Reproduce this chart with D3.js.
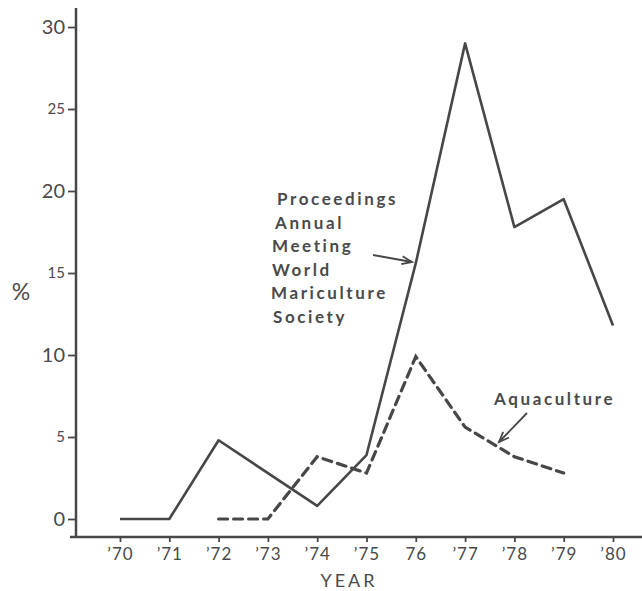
<!DOCTYPE html>
<html>
<head>
<meta charset="utf-8">
<script src="https://cdn.jsdelivr.net/npm/d3@7"></script>
<style>
  body { margin: 0; background: #fff; }
  svg { display: block; }
  text { font-family: "Lato", "DejaVu Sans", sans-serif; fill: #4a4a4a; }
</style>
</head>
<body>
<svg id="chart"></svg>
<script>
const years = [1970, 1971, 1972, 1973, 1974, 1975, 1976, 1977, 1978, 1979, 1980];
const yearLabels = ["’70", "’71", "’72", "’73", "’74", "’75", "76", "’77", "’78", "’79", "’80"];
const yTicks = [0, 5, 10, 15, 20, 25, 30];

// Proceedings Annual Meeting World Mariculture Society
const procYears = [1970, 1971, 1972, 1974, 1975, 1976, 1977, 1978, 1979, 1980];
const procValues = [0, 0, 4.8, 0.8, 3.9, 15.6, 29.0, 17.8, 19.5, 11.8];

// Aquaculture
const aquaYears = [1972, 1973, 1974, 1975, 1976, 1977, 1978, 1979];
const aquaValues = [0, 0, 3.8, 2.8, 9.9, 5.6, 3.8, 2.8];

const width = 642;
const height = 591;
const ink = "#474747";

const svg = d3.select("#chart")
  .attr("width", width)
  .attr("height", height);

const xScale = d3.scaleLinear()
  .domain([1970, 1980])
  .range([120, 613]);

const yScale = d3.scaleLinear()
  .domain([0, 30])
  .range([519, 27]);

// axis lines
svg.append("line")
  .attr("x1", 76).attr("x2", 76)
  .attr("y1", 8).attr("y2", 538)
  .attr("stroke", ink).attr("stroke-width", 2.5);

svg.append("line")
  .attr("x1", 70).attr("x2", 642)
  .attr("y1", 537).attr("y2", 537)
  .attr("stroke", ink).attr("stroke-width", 2.5);

// y axis
const yAxis = d3.axisLeft(yScale)
  .tickValues(yTicks)
  .tickSize(8)
  .tickPadding(3);

const yG = svg.append("g")
  .attr("transform", "translate(76, 0)")
  .call(yAxis);

yG.select(".domain").remove();
yG.selectAll(".tick line").attr("stroke", ink).attr("stroke-width", 1.8);
yG.selectAll(".tick text")
  .attr("fill", "#4a4a4a")
  .style("font-family", "Lato, 'DejaVu Sans', sans-serif")
  .style("font-size", d => d % 10 === 0 ? "20px" : "15px");

// x axis
const xAxis = d3.axisBottom(xScale)
  .tickValues(years)
  .tickFormat((d, i) => yearLabels[i])
  .tickSize(6)
  .tickPadding(6);

const xG = svg.append("g")
  .attr("transform", "translate(0, 536)")
  .call(xAxis);

xG.select(".domain").remove();
xG.selectAll(".tick line").attr("stroke", ink).attr("stroke-width", 1.8);
xG.selectAll(".tick text")
  .attr("fill", "#4a4a4a")
  .style("font-family", "Lato, 'DejaVu Sans', sans-serif")
  .style("font-size", "17px")
  .style("letter-spacing", "1px");

// axis titles
svg.append("text")
  .attr("x", 349).attr("y", 587)
  .attr("text-anchor", "middle")
  .style("font-size", "18px")
  .style("letter-spacing", "3px")
  .text("YEAR");

svg.append("text")
  .attr("x", 21).attr("y", 300)
  .attr("text-anchor", "middle")
  .style("font-size", "23px")
  .text("%");

// lines
const line = d3.line()
  .x(d => xScale(d[0]))
  .y(d => yScale(d[1]));

svg.append("path")
  .datum(procYears.map((y, i) => [y, procValues[i]]))
  .attr("d", line)
  .attr("fill", "none")
  .attr("stroke", ink)
  .attr("stroke-width", 2.6)
  .attr("stroke-linejoin", "round");

svg.append("path")
  .datum(aquaYears.map((y, i) => [y, aquaValues[i]]))
  .attr("d", line)
  .attr("fill", "none")
  .attr("stroke", ink)
  .attr("stroke-width", 3.2)
  .attr("stroke-dasharray", "9,6")
  .attr("stroke-linecap", "round");

// annotations
const procLines = ["Proceedings", "Annual", "Meeting", "World", "Mariculture", "Society"];
svg.append("g")
  .selectAll("text")
  .data(procLines)
  .join("text")
  .attr("x", (d, i) => [277, 275, 272, 272, 271, 273][i])
  .attr("y", (d, i) => 205 + i * 23.6)
  .style("font-size", "17px")
  .style("font-weight", "bold")
  .style("letter-spacing", "2.6px")
  .text(d => d);

svg.append("text")
  .attr("x", 494).attr("y", 405)
  .style("font-size", "17px")
  .style("font-weight", "bold")
  .style("letter-spacing", "2.6px")
  .text("Aquaculture");

function arrow(x1, y1, x2, y2) {
  const a = Math.atan2(y2 - y1, x2 - x1);
  const h = 11, s = 0.38;
  svg.append("line")
    .attr("x1", x1).attr("y1", y1).attr("x2", x2).attr("y2", y2)
    .attr("stroke", ink).attr("stroke-width", 1.8);
  svg.append("path")
    .attr("d", `M${x2 - h * Math.cos(a - s)},${y2 - h * Math.sin(a - s)} L${x2},${y2} L${x2 - h * Math.cos(a + s)},${y2 - h * Math.sin(a + s)}`)
    .attr("fill", "none")
    .attr("stroke", ink)
    .attr("stroke-width", 1.8);
}

arrow(373, 255, 412, 262);
arrow(527, 413, 499, 442);
</script>
</body>
</html>
